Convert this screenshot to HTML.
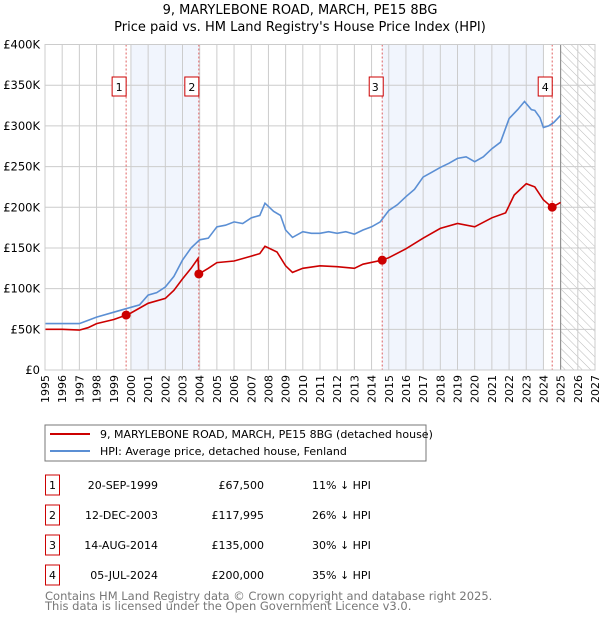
<!DOCTYPE html>
<html><head><meta charset="utf-8"><style>
body{margin:0;background:#fff;font-family:"DejaVu Sans","Liberation Sans",sans-serif;}
svg text{font-family:"DejaVu Sans","Liberation Sans",sans-serif;}
</style></head><body>
<svg id="c" width="600" height="620" xmlns="http://www.w3.org/2000/svg">
<defs><pattern id="hatch" width="6" height="6" patternUnits="userSpaceOnUse" patternTransform="rotate(-45)"><line x1="0" y1="0" x2="0" y2="6" stroke="#bbb" stroke-width="1"/></pattern></defs>
<text x="300" y="14" text-anchor="middle" font-size="13">9, MARYLEBONE ROAD, MARCH, PE15 8BG</text>
<text x="300" y="31" text-anchor="middle" font-size="13">Price paid vs. HM Land Registry's House Price Index (HPI)</text>
<g id="plot"></g>
<rect x="45" y="425" width="381" height="36" fill="#fff" stroke="#777"/>
<line x1="50" y1="434" x2="90" y2="434" stroke="#cc0000" stroke-width="2"/>
<text x="100" y="438" font-size="11">9, MARYLEBONE ROAD, MARCH, PE15 8BG (detached house)</text>
<line x1="50" y1="451" x2="90" y2="451" stroke="#5b8fd4" stroke-width="2"/>
<text x="100" y="455" font-size="11">HPI: Average price, detached house, Fenland</text>
<g id="tbl"></g>
<text x="45" y="600" font-size="11.5" fill="#777">Contains HM Land Registry data © Crown copyright and database right 2025.</text>
<text x="45" y="610" font-size="11.5" fill="#777">This data is licensed under the Open Government Licence v3.0.</text>
</svg>
<script>
const hpiYears=[1995,1996,1997,1997.5,1998,1999,2000,2000.5,2001,2001.5,2002,2002.5,2003,2003.5,2004,2004.5,2005,2005.5,2006,2006.5,2007,2007.5,2007.8,2008.3,2008.7,2009,2009.4,2010,2010.5,2011,2011.5,2012,2012.5,2013,2013.5,2014,2014.5,2015,2015.5,2016,2016.5,2017,2017.5,2018,2018.5,2019,2019.5,2020,2020.5,2021,2021.5,2022,2022.5,2022.9,2023.3,2023.5,2023.8,2024,2024.3,2024.6,2025];
const hpiValues=[57,57,57,61,65,71,77,80,92,95,102,115,135,150,160,162,176,178,182,180,187,190,205,195,190,172,163,170,168,168,170,168,170,167,172,176,182,196,203,213,222,237,243,249,254,260,262,256,262,272,280,309,320,330,320,319,310,298,300,304,313];
const ppYears=[1995,1996,1997,1997.5,1998,1999,1999.72,2000,2001,2002,2002.5,2003,2003.5,2003.9,2003.95,2004.5,2005,2006,2007,2007.5,2007.8,2008.5,2009,2009.4,2010,2011,2012,2013,2013.5,2014.62,2015,2016,2017,2018,2019,2020,2021,2021.8,2022.3,2023,2023.5,2024,2024.5,2025];
const ppValues=[50,50,49,52,57,62,67.5,70,82,88,98,112,125,137,118,125,132,134,140,143,152,145,128,120,125,128,127,125,130,135,138,149,162,174,180,176,187,193,215,229,225,209,200,206];
const saleYears=[1999.72,2003.95,2014.62,2024.51];
const saleValues=[67.5,117.995,135,200];
const saleLabels=["1","2","3","4"];
const saleDates=["20-SEP-1999","12-DEC-2003","14-AUG-2014","05-JUL-2024"];
const salePrices=["£67,500","£117,995","£135,000","£200,000"];
const salePct=["11% ↓ HPI","26% ↓ HPI","30% ↓ HPI","35% ↓ HPI"];
const yTicks=[0,50,100,150,200,250,300,350,400];
const yLabels=["£0","£50K","£100K","£150K","£200K","£250K","£300K","£350K","£400K"];
const xTicks=[];for(let y=1995;y<=2027;y++)xTicks.push(y);
const X0=45,X1=595,Y0=370,Y1=44.5;
const xs=v=>X0+(v-1995)/(2027-1995)*(X1-X0);
const ys=v=>Y0-v/400*(Y0-Y1);
const NS="http://www.w3.org/2000/svg";
const g=document.getElementById('plot');
function mk(t,a,p){const e=document.createElementNS(NS,t);for(const k in a)e.setAttribute(k,a[k]);(p||g).appendChild(e);return e;}
let e;
e=mk('rect',{x:xs(2000),y:Y1,width:xs(2004)-xs(2000),height:Y0-Y1,fill:'#eef3fc',opacity:0.8});


e=mk('rect',{x:xs(2014.62),y:Y1,width:xs(2024)-xs(2014.62),height:Y0-Y1,fill:'#eef3fc',opacity:0.8});


e=mk('rect',{x:xs(2025),y:Y1,width:X1-xs(2025),height:Y0-Y1,fill:'url(#hatch)'});


xTicks.forEach(t=>{
 e=mk('line',{x1:xs(t),x2:xs(t),y1:Y1,y2:Y0,stroke:'#ccc','stroke-width':1});
 
 
 e=mk('text',{transform:`translate(${xs(t)+4},${Y0+5}) rotate(-90)`,'text-anchor':'end','font-size':11});
 e.textContent=t;
 
 
});
yTicks.forEach((t,i)=>{
 e=mk('line',{x1:X0,x2:X1,y1:ys(t),y2:ys(t),stroke:'#ccc','stroke-width':1});
 
 
 e=mk('text',{x:X0-5,y:ys(t)+4,'text-anchor':'end','font-size':11.5});
 e.textContent=yLabels[i];
 
 
});
e=mk('line',{x1:xs(2025),x2:xs(2025),y1:Y1,y2:Y0,stroke:'#888','stroke-width':1});


saleYears.forEach((s,i)=>{
 e=mk('line',{x1:xs(s),x2:xs(s),y1:Y1,y2:Y0,stroke:'#e06060','stroke-width':1,'stroke-dasharray':'2,2'});
 
 
 e=mk('rect',{x:xs(s)-20+6,y:77,width:14,height:19,fill:'#fff',stroke:'#cc0000'});
 e.setAttribute('x',xs(s)-14-(i==2?-1:0));
 
 
 e=mk('text',{x:xs(s)-7,y:91,'text-anchor':'middle','font-size':11});
 e.textContent=saleLabels[i];
 
 
});
function path(xa,va){return xa.map((x,i)=>(i?'L':'M')+xs(x).toFixed(1)+','+ys(va[i]).toFixed(1)).join('');}
e=mk('path',{d:path(hpiYears,hpiValues),fill:'none',stroke:'#5b8fd4','stroke-width':1.6});


e=mk('path',{d:path(ppYears,ppValues),fill:'none',stroke:'#cc0000','stroke-width':1.6});


saleYears.forEach((s,i)=>{
 e=mk('circle',{cx:xs(s),cy:ys(saleValues[i]),r:4.5,fill:'#cc0000'});
 
 
});
e=mk('rect',{x:X0,y:Y1,width:X1-X0,height:Y0-Y1,fill:'none',stroke:'#ccc'});


const t=document.getElementById('tbl');
saleDates.forEach((d,i)=>{
 const cy=483+i*30;
 e=mk('rect',{x:45.5,y:cy-8,width:14,height:20,fill:'#fff',stroke:'#cc0000'},t);
 
 
 e=mk('text',{x:52.5,y:cy+6,'text-anchor':'middle','font-size':11},t);e.textContent=saleLabels[i];
 
 
 e=mk('text',{x:158,y:cy+6,'text-anchor':'end','font-size':11},t);e.textContent=d;
 
 
 e=mk('text',{x:264,y:cy+6,'text-anchor':'end','font-size':11},t);e.textContent=salePrices[i];
 
 
 e=mk('text',{x:312,y:cy+6,'font-size':11},t);e.textContent=salePct[i];
 
 
});
</script>
</body></html>
